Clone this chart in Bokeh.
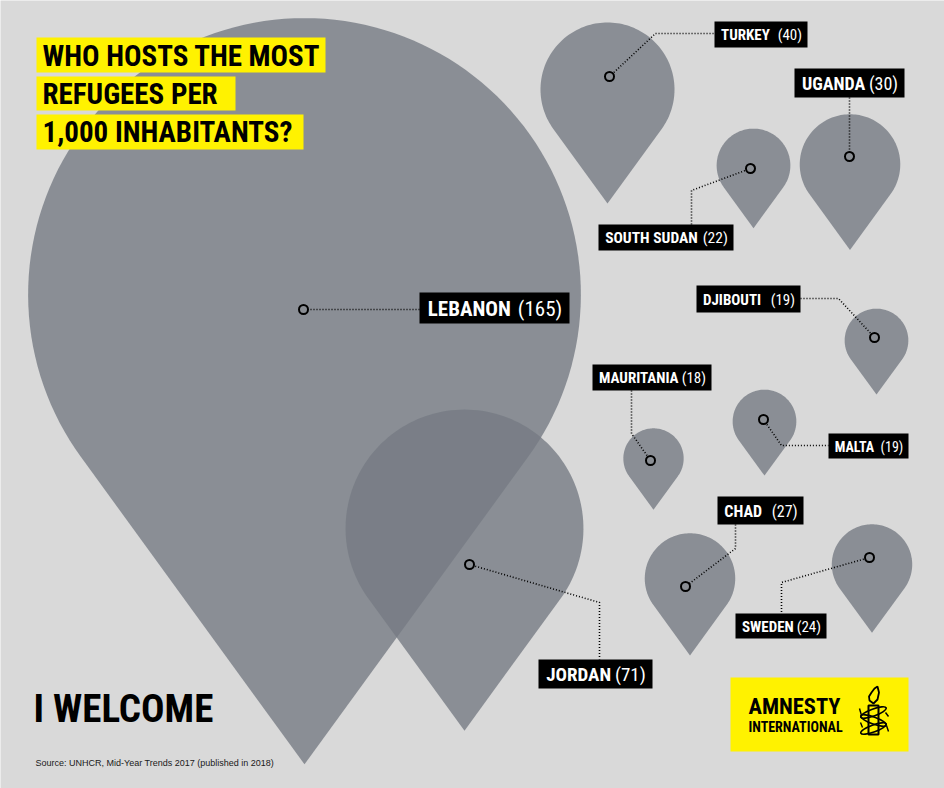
import math
from bokeh.plotting import figure
from bokeh.models import Range1d, ColumnDataSource
from bokeh.core.properties import value
from bokeh.embed import file_html
from bokeh.resources import INLINE

# ---------------- data ----------------
countries = ["LEBANON", "JORDAN", "TURKEY", "UGANDA", "SOUTH SUDAN",
             "DJIBOUTI", "MAURITANIA", "MALTA", "CHAD", "SWEDEN"]
refugees_per_1000 = [165, 71, 40, 30, 22, 19, 18, 19, 27, 24]

title_lines = ["WHO HOSTS THE MOST", "REFUGEES PER", "1,000 INHABITANTS?"]
source_text = "Source: UNHCR, Mid-Year Trends 2017 (published in 2018)"

# ---------------- layout (pixel space) ----------------
pin_cx = [304, 464, 607, 849.5, 753, 876, 653, 764, 689.5, 871.5]
pin_cy = [294, 528, 89, 164, 165, 340, 458, 421, 578, 564]
dot_x = [303, 469, 609, 849, 750, 874, 650, 763, 685, 869]
dot_y = [309, 564, 76, 156, 168, 337, 460, 419, 586, 557]
box_l = [419, 538, 714, 794, 598, 696, 592, 828, 717, 735]
box_r = [569, 652, 807, 904, 733, 800, 711, 908, 803, 826]
box_t = [292, 659, 21, 68, 224, 285, 364, 433, 496, 613]
box_b = [323, 688, 47, 97, 250, 312, 390, 458, 524, 638]
label_px = [21, 19, 15, 18, 15.5, 15, 15, 14, 16, 15]
leader_x = [[307, 419], [469, 599, 599], [609, 655, 714], [849, 849],
            [750, 691, 691], [800, 838, 874], [631, 631, 650],
            [763, 781, 828], [735, 735, 685], [869, 781, 781]]
leader_y = [[309, 309], [564, 602, 659], [76, 33, 33], [97, 152],
            [168, 190, 224], [298, 298, 337], [390, 433, 460],
            [419, 445, 445], [524, 548, 586], [557, 582, 613]]

PIN_SCALE = 1.675      # px of radius per refugee / 1000 inhabitants
TIP_RATIO = 1.7        # distance centre -> tip, in radii
BG = "#d9d9d9"
PIN = "#767b83"
YELLOW = "#fff200"
COND = "Roboto Condensed"


def pin_shape(cx, cy, r):
    d = TIP_RATIO * r
    th = math.acos(r / d)
    n = 120
    xs, ys = [], []
    for i in range(n + 1):
        phi = th + (2 * math.pi - 2 * th) * i / n
        xs.append(cx + r * math.sin(phi))
        ys.append(cy + r * math.cos(phi))
    xs.append(cx)
    ys.append(cy + d)
    return xs, ys


p = figure(width=944, height=788, output_backend="svg", toolbar_location=None,
           x_range=Range1d(0, 944), y_range=Range1d(788, 0),
           x_axis_location=None, y_axis_location=None, min_border=0,
           background_fill_color=BG, border_fill_color=BG,
           outline_line_color=None)
p.grid.visible = False

# pins
px, py = [], []
for cx, cy, v in zip(pin_cx, pin_cy, refugees_per_1000):
    xs, ys = pin_shape(cx, cy, PIN_SCALE * v)
    px.append(xs)
    py.append(ys)
p.patches(px, py, fill_color=PIN, fill_alpha=0.8, line_color=None)

# leaders
p.multi_line(leader_x, leader_y, line_color="black", line_width=1.6,
             line_dash="1 2")
# rings
p.scatter(dot_x, dot_y, size=9, marker="circle", fill_color="#8a8e94",
          line_color="black", line_width=2)

# label boxes
p.quad(left=box_l, right=box_r, top=box_t, bottom=box_b,
       fill_color="black", line_color=None)

name_x, val_x, mid_y, vals = [], [], [], []
for i in range(len(countries)):
    pad = 0.3 * label_px[i] + 2
    name_x.append(box_l[i] + pad)
    val_x.append(box_r[i] - pad + 1)
    mid_y.append((box_t[i] + box_b[i]) / 2 + 0.5)
    vals.append("(%d)" % refugees_per_1000[i])

src = ColumnDataSource(dict(nx=name_x, vx=val_x, y=mid_y, name=countries,
                            val=vals, fs=["%gpx" % s for s in label_px]))
p.text(x="nx", y="y", text="name", source=src, text_font=value(COND),
       text_font_style="bold", text_color="white", text_font_size="fs",
       text_align="left", text_baseline="middle")
p.text(x="vx", y="y", text="val", source=src, text_font=value(COND),
       text_font_style="normal", text_color="white", text_font_size="fs",
       text_align="right", text_baseline="middle")

# title
p.quad(left=[36, 36, 36], right=[325, 235, 303], top=[37, 76, 114],
       bottom=[72, 110, 149], fill_color=YELLOW, line_color=None)
p.text(x=[42, 42, 42], y=[55, 93, 131], text=title_lines,
       text_font=value(COND), text_font_style="bold", text_color="black",
       text_font_size="29px", text_align="left", text_baseline="middle")

# I WELCOME + source
p.text(x=[33], y=[708.5], text=["I WELCOME"], text_font=value(COND),
       text_font_style="bold", text_color="black", text_font_size="39px",
       text_align="left", text_baseline="middle")
p.text(x=[35], y=[762], text=[source_text], text_font=value("Liberation Sans"),
       text_color="#1a1a1a", text_font_size="9px", text_align="left",
       text_baseline="middle")

# Amnesty logo
p.quad(left=[730], right=[908], top=[677], bottom=[751], fill_color=YELLOW,
       line_color=None)
p.text(x=[748, 748], y=[705, 726.5], text=["AMNESTY", "INTERNATIONAL"],
       text_font=value(COND), text_font_style="bold", text_color="black",
       text_font_size=["22.5px", "14px"], text_align="left",
       text_baseline="middle")
# candle
p.quad(left=[868], right=[878], top=[705], bottom=[734], fill_color=None,
       line_color="black", line_width=2)
p.patch([873, 869, 868.5, 871, 874, 877, 878.5, 877, 873],
        [703, 700, 696, 692, 688, 686, 692, 699, 703],
        fill_color=None, line_color="black", line_width=1.8)
p.ellipse(x=[873, 873, 873], y=[712, 720, 728], width=[27, 27, 27],
          height=[7, 7, 7], angle=[0.35, -0.35, 0.35], fill_color=None,
          line_color="black", line_width=1.6)
p.segment(x0=[859, 885, 860, 886], y0=[708, 712, 722, 725],
          x1=[861, 888, 862, 888], y1=[715, 716, 727, 731],
          line_color="black", line_width=1.4)

open("out.html", "w").write(file_html(p, INLINE))
